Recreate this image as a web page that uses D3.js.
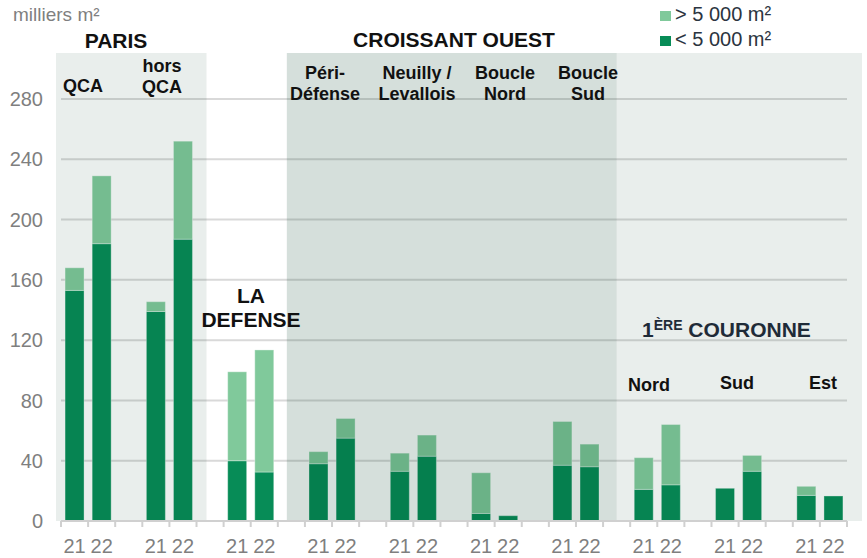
<!DOCTYPE html>
<html lang="fr">
<head>
    <meta charset="UTF-8">
    <title>Demande placée par zone</title>
    <script src="https://d3js.org/d3.v7.min.js"></script>
</head>
<style>
    body {
        margin: 0;
        padding: 0;
        background: #ffffff;
    }
    svg {
        display: block;
        font-family: Arial, "Liberation Sans", sans-serif;
    }
    .sub {
        font-weight: bold;
        font-size: 18px;
        fill: #111111;
    }
    .head {
        font-weight: bold;
        font-size: 21px;
        fill: #111111;
    }
</style>
<body>
<div class="chart"></div>
<script>
  /** DATA */
  var zones = ['QCA', 'hors QCA', 'La Défense', 'Péri-Défense', 'Neuilly / Levallois',
    'Boucle Nord', 'Boucle Sud', 'Nord', 'Sud', 'Est'];
  var years = ['21', '22'];
  // milliers m2, listed zone by zone, 21 then 22
  var smallDeals = [153, 184, 139, 187, 40, 32.5, 38, 55, 33, 43, 5, 3.5, 37, 36, 21, 24, 21.7, 33, 17, 16.6];
  var largeDeals = [15, 45, 6.5, 65, 59, 81, 8, 13, 12, 14, 27, 0, 29, 15, 21, 40, 0, 10.5, 6, 0];
  var yTickValues = [0, 40, 80, 120, 160, 200, 240, 280];

  var seriesNames = ['> 5 000 m²', '< 5 000 m²'];
  var colorLarge = '#80c99b';
  var colorSmall = '#078c57';

  /** LAYOUT */
  var width = 867;
  var height = 558;
  var slotsPerZone = 3;
  var nSlots = zones.length * slotsPerZone - 1;

  var svg = d3.select('.chart').append('svg')
    .attr('width', width)
    .attr('height', height);

  var x = d3.scaleBand()
    .domain(d3.range(nSlots))
    .range([61, 847])
    .paddingInner(0.3)
    .paddingOuter(0.15);

  var y = d3.scaleLinear()
    .domain([0, 280])
    .range([521, 99]);

  function slotStart(i) { return x.range()[0] + i * x.step(); }

  /** rows: one per zone and year */
  var rows = [];
  zones.forEach(function (z, zi) {
    years.forEach(function (yr, yi) {
      var k = zi * 2 + yi;
      rows.push({zone: z, year: yr, slot: zi * slotsPerZone + yi, small: smallDeals[k], large: largeDeals[k]});
    });
  });

  /** gridlines */
  svg.append('g').selectAll('line')
    .data(yTickValues.slice(1))
    .enter().append('line')
    .attr('x1', x.range()[0]).attr('x2', x.range()[1])
    .attr('y1', function (d) { return y(d); })
    .attr('y2', function (d) { return y(d); })
    .attr('stroke', '#d9d9d9')
    .attr('stroke-width', 2);

  /** bars */
  var barG = svg.append('g');
  barG.selectAll('rect.small')
    .data(rows)
    .enter().append('rect')
    .classed('small', true)
    .attr('x', function (d) { return x(d.slot); })
    .attr('width', x.bandwidth())
    .attr('y', function (d) { return y(d.small); })
    .attr('height', function (d) { return y(0) - y(d.small); })
    .attr('fill', colorSmall)
    .attr('stroke', 'rgba(255,255,255,0.35)')
    .attr('stroke-width', 1);

  barG.selectAll('rect.large')
    .data(rows.filter(function (d) { return d.large > 0; }))
    .enter().append('rect')
    .classed('large', true)
    .attr('x', function (d) { return x(d.slot); })
    .attr('width', x.bandwidth())
    .attr('y', function (d) { return y(d.small + d.large); })
    .attr('height', function (d) { return y(d.small) - y(d.small + d.large); })
    .attr('fill', colorLarge)
    .attr('stroke', 'rgba(255,255,255,0.35)')
    .attr('stroke-width', 1);

  /** shaded areas, laid over the bars */
  var regions = [
    {x0: x.range()[0] - 5, x1: slotStart(5) + 10, fill: 'rgba(0,58,35,0.086)'},
    {x0: slotStart(8) + 9, x1: slotStart(20) + x.step() / 2, fill: 'rgba(0,61,37,0.165)'},
    {x0: slotStart(20) + x.step() / 2, x1: width - 5, fill: 'rgba(0,58,35,0.086)'}
  ];
  svg.append('g').selectAll('rect')
    .data(regions)
    .enter().append('rect')
    .attr('x', function (d) { return d.x0; })
    .attr('width', function (d) { return d.x1 - d.x0; })
    .attr('y', 53)
    .attr('height', y(0) - 53)
    .attr('fill', function (d) { return d.fill; });

  /** x axis: base line, ticks at slot edges, year labels */
  var axisG = svg.append('g');
  axisG.append('line')
    .attr('x1', x.range()[0]).attr('x2', x.range()[1])
    .attr('y1', y(0)).attr('y2', y(0))
    .attr('stroke', '#d0d0d0')
    .attr('stroke-width', 2);
  axisG.selectAll('line.tick')
    .data(d3.range(nSlots + 1))
    .enter().append('line')
    .classed('tick', true)
    .attr('x1', function (i) { return slotStart(i); })
    .attr('x2', function (i) { return slotStart(i); })
    .attr('y1', y(0)).attr('y2', y(0) + 6)
    .attr('stroke', '#d0d0d0')
    .attr('stroke-width', 2);
  axisG.selectAll('text')
    .data(rows)
    .enter().append('text')
    .attr('x', function (d) { return x(d.slot) + x.bandwidth() / 2; })
    .attr('y', 553)
    .attr('text-anchor', 'middle')
    .attr('font-size', 20)
    .attr('fill', '#7f7f7f')
    .text(function (d) { return d.year; });

  /** y axis labels */
  svg.append('g').selectAll('text')
    .data(yTickValues)
    .enter().append('text')
    .attr('x', 43)
    .attr('y', function (d) { return y(d); })
    .attr('dy', '0.36em')
    .attr('text-anchor', 'end')
    .attr('font-size', 20)
    .attr('fill', '#7f7f7f')
    .text(function (d) { return d; });

  svg.append('text')
    .attr('x', 13).attr('y', 21)
    .attr('font-size', 19)
    .attr('fill', '#7f7f7f')
    .text('milliers m²');

  /** legend */
  var legend = svg.append('g').attr('transform', 'translate(660,11)');
  var legendItem = legend.selectAll('g')
    .data(seriesNames)
    .enter().append('g')
    .attr('transform', function (_, i) { return 'translate(0,' + i * 25 + ')'; });
  legendItem.append('rect')
    .attr('width', 11).attr('height', 10)
    .attr('fill', function (_, i) { return i === 0 ? colorLarge : colorSmall; });
  legendItem.append('text')
    .attr('x', 15).attr('y', 10)
    .attr('font-size', 20)
    .attr('fill', '#2b3440')
    .text(function (d) { return d; });

  /** zone headers and labels */
  var headers = [
    {lines: ['PARIS'], x: 116, y: 48},
    {lines: ['CROISSANT OUEST'], x: 454, y: 47},
    {lines: ['LA', 'DEFENSE'], x: 251, y: 303}
  ];
  headers.forEach(function (h) {
    var t = svg.append('text').classed('head', true)
      .attr('text-anchor', 'middle')
      .attr('y', h.y);
    h.lines.forEach(function (l, i) {
      t.append('tspan').attr('x', h.x).attr('dy', i === 0 ? 0 : 24).text(l);
    });
  });

  var couronne = svg.append('text').classed('head', true)
    .attr('x', 642).attr('y', 337)
    .style('fill', '#1f2b38');
  couronne.append('tspan').text('1');
  couronne.append('tspan').attr('font-size', 14).attr('dy', -7).text('ÈRE');
  couronne.append('tspan').attr('dy', 7).text(' COURONNE');

  var subLabels = [
    {lines: ['QCA'], x: 83, y: 92},
    {lines: ['hors', 'QCA'], x: 162, y: 72},
    {lines: ['Péri-', 'Défense'], x: 325, y: 79},
    {lines: ['Neuilly /', 'Levallois'], x: 417, y: 79},
    {lines: ['Boucle', 'Nord'], x: 505, y: 79},
    {lines: ['Boucle', 'Sud'], x: 588, y: 79},
    {lines: ['Nord'], x: 649, y: 391},
    {lines: ['Sud'], x: 737, y: 389},
    {lines: ['Est'], x: 823, y: 389}
  ];
  subLabels.forEach(function (s) {
    var t = svg.append('text').classed('sub', true)
      .attr('text-anchor', 'middle')
      .attr('y', s.y);
    s.lines.forEach(function (l, i) {
      t.append('tspan').attr('x', s.x).attr('dy', i === 0 ? 0 : 21).text(l);
    });
  });
</script>
</body>
</html>
